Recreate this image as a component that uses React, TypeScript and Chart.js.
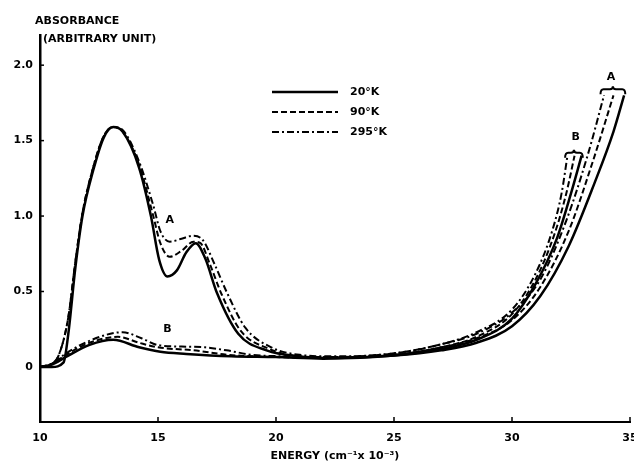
import React, { useEffect, useRef } from "react";
import { Chart, registerables } from "chart.js";

Chart.register(...registerables);

// ---- data (energy in cm^-1 x 10^-3, absorbance in arbitrary units) ----
const energyA20 = [10, 10.5, 11.0, 11.2, 11.5, 11.8, 12.25, 12.7, 13.1, 13.5, 14.2, 14.7, 15.05, 15.4, 15.8, 16.2, 16.6, 17.0, 17.5, 18.4, 19.6, 21, 22.5, 25, 27, 28.5, 30, 31.2, 32.4, 33.5, 34.3, 34.75];
const absA20 = [0, 0, 0.03, 0.22, 0.66, 1.0, 1.3, 1.52, 1.59, 1.56, 1.32, 1.0, 0.71, 0.6, 0.64, 0.76, 0.82, 0.72, 0.49, 0.22, 0.11, 0.07, 0.06, 0.075, 0.11, 0.16, 0.27, 0.47, 0.8, 1.22, 1.56, 1.8];

const energyA90 = [10, 10.5, 10.8, 11.2, 11.5, 11.8, 12.25, 12.7, 13.1, 13.5, 14.2, 14.8, 15.1, 15.5, 16.0, 16.5, 16.8, 17.2, 17.7, 18.5, 19.7, 21, 22.5, 25, 27, 28.5, 30, 31.2, 32.4, 33.4, 34.3];
const absA90 = [0, 0.02, 0.08, 0.33, 0.7, 1.02, 1.32, 1.53, 1.59, 1.56, 1.34, 1.0, 0.82, 0.73, 0.77, 0.83, 0.82, 0.68, 0.48, 0.24, 0.12, 0.07, 0.065, 0.08, 0.13, 0.19, 0.31, 0.53, 0.9, 1.35, 1.8];

const energyA295 = [10, 10.5, 10.8, 11.2, 11.5, 11.8, 12.25, 12.7, 13.1, 13.5, 14.2, 14.8, 15.1, 15.5, 16.0, 16.5, 16.9, 17.4, 17.9, 18.7, 19.8, 21, 22.5, 25, 27, 28.5, 30, 31.2, 32.3, 33.2, 33.9];
const absA295 = [0, 0.02, 0.08, 0.33, 0.7, 1.02, 1.32, 1.53, 1.59, 1.57, 1.36, 1.07, 0.9, 0.83, 0.85, 0.87, 0.84, 0.68, 0.5, 0.26, 0.13, 0.08, 0.07, 0.09, 0.15, 0.22, 0.36, 0.58, 0.97, 1.4, 1.8];

const energyB20 = [10, 10.5, 11.1, 12.1, 13.1, 14.2, 15.1, 16.2, 18.1, 20, 22, 25, 27, 28.5, 30, 31.0, 31.9, 32.5, 32.95];
const absB20 = [0, 0.015, 0.066, 0.146, 0.18, 0.13, 0.1, 0.086, 0.07, 0.065, 0.055, 0.075, 0.12, 0.18, 0.32, 0.55, 0.85, 1.15, 1.4];

const energyB90 = [10, 10.5, 11.1, 12.1, 13.3, 14.2, 15.0, 16.5, 18.0, 20, 22, 25, 27, 28.5, 30, 31.0, 31.8, 32.3, 32.65];
const absB90 = [0, 0.02, 0.08, 0.16, 0.2, 0.16, 0.13, 0.11, 0.08, 0.065, 0.06, 0.08, 0.13, 0.2, 0.35, 0.58, 0.88, 1.15, 1.4];

const energyB295 = [10, 10.5, 11.1, 12.2, 13.5, 14.3, 15.0, 16.0, 17.0, 17.9, 19.0, 20.5, 22, 25, 27, 28.5, 30, 31.0, 31.7, 32.1, 32.35];
const absB295 = [0, 0.02, 0.09, 0.18, 0.23, 0.19, 0.145, 0.135, 0.13, 0.11, 0.08, 0.07, 0.065, 0.09, 0.15, 0.23, 0.38, 0.62, 0.9, 1.15, 1.4];

const xTicks = [10, 15, 20, 25, 30, 35];
const yTicks = [0, 0.5, 1.0, 1.5, 2.0];
const yTickLabels = ["0", "0.5", "1.0", "1.5", "2.0"];
const legendLabels = ["20°K", "90°K", "295°K"];

const FONT = "'DejaVu Sans', sans-serif";
const DASHED = [6, 3];
const DASHDOT = [7, 3, 2, 3];

const pts = (xs: number[], ys: number[]) => xs.map((x, i) => ({ x, y: ys[i] }));

const overlayPlugin = {
  id: "overlay",
  afterDraw(chart: any) {
    const { ctx, scales } = chart;
    const xs = scales.x;
    const ys = scales.y;
    const px = (v: number) => xs.getPixelForValue(v);
    const py = (v: number) => ys.getPixelForValue(v);
    ctx.save();
    ctx.strokeStyle = "#000";
    ctx.fillStyle = "#000";
    // inward ticks
    ctx.lineWidth = 1.5;
    ctx.setLineDash([]);
    yTicks.forEach((v) => {
      ctx.beginPath();
      ctx.moveTo(xs.left, py(v));
      ctx.lineTo(xs.left + 4, py(v));
      ctx.stroke();
    });
    xTicks.forEach((v) => {
      ctx.beginPath();
      ctx.moveTo(px(v), ys.bottom);
      ctx.lineTo(px(v), ys.bottom - 5);
      ctx.stroke();
    });
    // axis title (y)
    ctx.font = `bold 11px ${FONT}`;
    ctx.textBaseline = "middle";
    ctx.textAlign = "left";
    ctx.fillText("ABSORBANCE", 35, 21);
    ctx.fillText("(ARBITRARY UNIT)", 43, 39);
    // legend
    const styles = [[], DASHED, DASHDOT];
    const widths = [2.5, 2, 2];
    const ly = [92, 112, 132];
    legendLabels.forEach((t, i) => {
      ctx.setLineDash(styles[i]);
      ctx.lineWidth = widths[i];
      ctx.beginPath();
      ctx.moveTo(272, ly[i]);
      ctx.lineTo(338, ly[i]);
      ctx.stroke();
      ctx.setLineDash([]);
      ctx.fillText(t, 350, ly[i]);
    });
    // annotations
    ctx.textAlign = "center";
    ctx.font = `bold 11px ${FONT}`;
    ctx.fillText("A", px(15.5), py(0.97));
    ctx.fillText("B", px(15.4), py(0.25));
    ctx.fillText("A", px(34.2), py(1.92));
    ctx.fillText("B", px(32.7), py(1.52));
    const brace = (x1: number, x2: number, y: number) => {
      const a = px(x1), b = px(x2), m = (a + b) / 2, yy = py(y);
      ctx.lineWidth = 2;
      ctx.beginPath();
      ctx.moveTo(a, yy + 5);
      ctx.quadraticCurveTo(a, yy, a + 3, yy);
      ctx.lineTo(m - 3, yy);
      ctx.quadraticCurveTo(m, yy, m, yy - 3);
      ctx.quadraticCurveTo(m, yy, m + 3, yy);
      ctx.lineTo(b - 3, yy);
      ctx.quadraticCurveTo(b, yy, b, yy + 5);
      ctx.stroke();
    };
    brace(33.75, 34.8, 1.84);
    brace(32.25, 33.0, 1.42);
    ctx.restore();
  },
};

export default function App() {
  const ref = useRef<HTMLCanvasElement | null>(null);
  useEffect(() => {
    if (!ref.current) return;
    const line = (data: any[], dash: number[], w: number) => ({
      data,
      borderColor: "#000",
      borderWidth: w,
      borderDash: dash,
      pointRadius: 0,
      fill: false,
      cubicInterpolationMode: "monotone" as const,
    });
    const chart = new Chart(ref.current, {
      type: "line",
      data: {
        datasets: [
          line(pts(energyA20, absA20), [], 2.5),
          line(pts(energyA90, absA90), DASHED, 2),
          line(pts(energyA295, absA295), DASHDOT, 2),
          line(pts(energyB20, absB20), [], 2.5),
          line(pts(energyB90, absB90), DASHED, 2),
          line(pts(energyB295, absB295), DASHDOT, 2),
        ],
      },
      options: {
        animation: false,
        responsive: false,
        maintainAspectRatio: false,
        layout: { autoPadding: false, padding: { top: 35, right: 4, left: 0, bottom: 0 } },
        plugins: { legend: { display: false }, tooltip: { enabled: false }, title: { display: false } },
        scales: {
          x: {
            type: "linear",
            min: 10,
            max: 35,
            afterFit: (s: any) => { s.height = 49; s.paddingLeft = 0; s.paddingRight = 0; },
            afterBuildTicks: (s: any) => { s.ticks = xTicks.map((v) => ({ value: v })); },
            grid: { display: false, drawTicks: false },
            border: { display: true, color: "#000", width: 2 },
            ticks: { color: "#000", font: { family: FONT, size: 11, weight: "bold" }, padding: 10, maxRotation: 0, autoSkip: false },
            title: { display: true, text: "ENERGY (cm⁻¹x 10⁻³)", color: "#000", font: { family: FONT, size: 11, weight: "bold" }, padding: { top: 0, bottom: 8 } },
          },
          y: {
            type: "linear",
            min: -0.365,
            max: 2.2,
            afterFit: (s: any) => { s.width = 40; s.paddingTop = 0; s.paddingBottom = 0; },
            afterBuildTicks: (s: any) => { s.ticks = yTicks.map((v) => ({ value: v })); },
            grid: { display: false, drawTicks: false },
            border: { display: true, color: "#000", width: 2.5 },
            ticks: {
              color: "#000",
              font: { family: FONT, size: 11, weight: "bold" },
              padding: 7,
              autoSkip: false,
              callback: (v: any) => { const i = yTicks.indexOf(Number(v)); return i >= 0 ? yTickLabels[i] : ""; },
            },
          },
        },
      } as any,
      plugins: [overlayPlugin],
    });
    return () => chart.destroy();
  }, []);
  return (
    <div style={{ position: "absolute", left: 0, top: 0, width: 634, height: 471, background: "#fff" }}>
      <canvas ref={ref} width={634} height={471} style={{ width: 634, height: 471 }} />
    </div>
  );
}
